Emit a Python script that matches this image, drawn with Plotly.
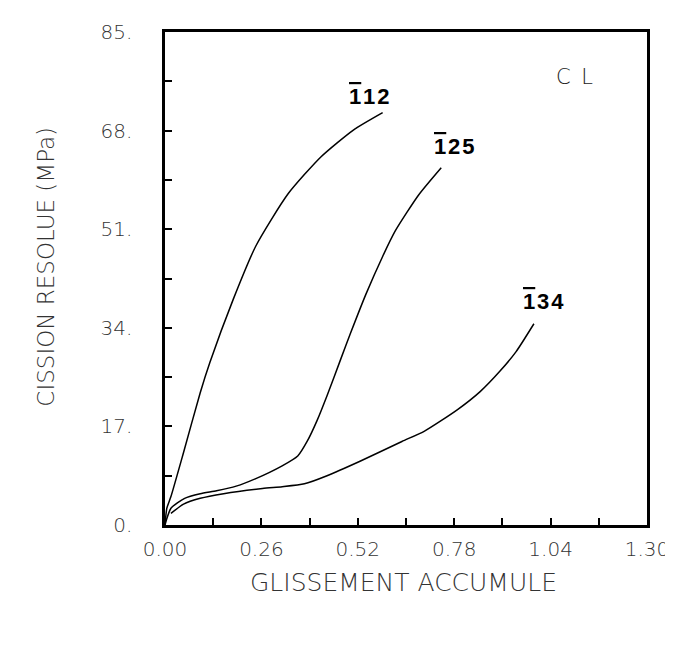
import plotly.graph_objects as go

# glissement accumule (x) / cission resolue MPa (y)
x_112 = [0.0, 0.005, 0.016, 0.05, 0.095, 0.121, 0.184, 0.245, 0.332, 0.421, 0.508, 0.587]
y_112 = [0.0, 2.9, 4.9, 12.5, 22.8, 28.0, 38.9, 48.1, 57.1, 63.5, 68.1, 71.1]

x_125 = [0.0, 0.003, 0.016, 0.053, 0.095, 0.139, 0.192, 0.245, 0.316, 0.358, 0.384,
         0.41, 0.437, 0.474, 0.5, 0.542, 0.587, 0.621, 0.684, 0.745]
y_125 = [0.0, 0.7, 2.9, 4.6, 5.4, 5.9, 6.7, 8.0, 10.2, 11.9, 14.5,
         18.0, 22.3, 28.6, 33.0, 39.8, 46.3, 50.7, 56.9, 61.6]

x_134 = [0.016, 0.05, 0.095, 0.158, 0.263, 0.316, 0.376, 0.437, 0.526, 0.639,
         0.700, 0.789, 0.850, 0.903, 0.947, 0.995]
y_134 = [2.0, 3.6, 4.6, 5.4, 6.3, 6.6, 7.1, 8.5, 11.0, 14.4,
         16.2, 19.9, 23.0, 26.5, 29.9, 34.7]

x_ticks = [0.0, 0.26, 0.52, 0.78, 1.04, 1.30]
x_ticktext = ["0.00", "0.26", "0.52", "0.78", "1.04", "1.30"]
y_ticks = [0, 17, 34, 51, 68, 85]
y_ticktext = ["0.", "17.", "34.", "51.", "68.", "85."]

over1 = "<span style='text-decoration:overline'>1</span>"
labels = [over1 + "\u200a1\u200a2", over1 + "\u200a2\u200a5", over1 + "\u200a3\u200a4"]
label_x = [0.55, 0.78, 1.02]
label_y = [73.8, 65.3, 38.6]

fig = go.Figure()
for xs, ys in [(x_112, y_112), (x_125, y_125), (x_134, y_134)]:
    fig.add_trace(go.Scatter(x=xs, y=ys, mode="lines",
                             line=dict(color="black", width=1.5, shape="spline", smoothing=0.6),
                             showlegend=False, hoverinfo="skip"))

for t, lx, ly in zip(labels, label_x, label_y):
    fig.add_annotation(x=lx, y=ly, text=t, showarrow=False,
                       font=dict(family="Liberation Sans, Arial", size=22, color="black", weight="bold"))

fig.add_annotation(x=1.105, y=77.2, text="C\u2002L", showarrow=False,
                   font=dict(family="DejaVu Sans", size=21, color="#222", weight=300))

tickfont = dict(family="DejaVu Sans", size=20, color="#333", weight=300)
axis_style = dict(showline=True, linecolor="black", linewidth=2.5, mirror=True,
                  ticks="inside", ticklen=7, tickcolor="black", tickwidth=1.5,
                  showgrid=False, zeroline=False, tickfont=tickfont)
fig.update_xaxes(range=[0, 1.30], tickvals=x_ticks, ticktext=x_ticktext, ticklabelstandoff=4,
                 ticklabeloverflow="allow",
                 minor=dict(dtick=0.13, tick0=0, ticks="inside", ticklen=7, tickcolor="black"),
                 **axis_style)
fig.update_yaxes(range=[0, 85], tickvals=y_ticks, ticktext=y_ticktext, ticklabelstandoff=26,
                 minor=dict(dtick=8.5, tick0=0, ticks="inside", ticklen=7, tickcolor="black"),
                 **axis_style)

fig.add_annotation(xref="paper", yref="paper", x=0.494, y=-0.15, text="GLISSEMENT ACCUMULE",
                   showarrow=False, font=dict(family="DejaVu Sans", size=25, color="#333", weight=300))
fig.add_annotation(xref="paper", yref="paper", x=-0.277, y=0.525, text="CISSION RESOLUE (MPa)",
                   textangle=-90, showarrow=False,
                   font=dict(family="DejaVu Sans", size=23, color="#333", weight=300))

fig.update_layout(width=673, height=652, margin=dict(l=157, r=22, t=15, b=135),
                  plot_bgcolor="white", paper_bgcolor="white")
fig.write_html("out.html")
